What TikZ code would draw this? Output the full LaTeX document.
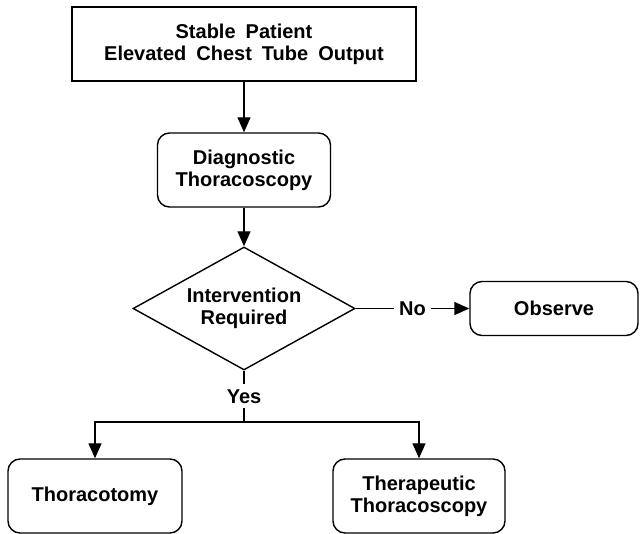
\documentclass[tikz,border=0pt]{standalone}
\usepackage{fontspec}
\setmainfont[WordSpace=1.8]{Liberation Sans}
\usetikzlibrary{arrows.meta,shapes.geometric}

\begin{document}
\begin{tikzpicture}[x=1pt,y=-1pt,line width=1.4pt,
  font=\fontsize{20}{22}\selectfont\bfseries,
  plainbox/.style={draw,align=center,inner sep=0pt,minimum height=74pt},
  roundbox/.style={plainbox,rounded corners=12pt},
  decision/.style={draw,diamond,aspect=1.8,align=center,inner sep=0pt,minimum width=222pt,minimum height=123pt},
  flow/.style={-{Triangle[length=15pt,width=13pt]}},
  lbl/.style={fill=white,inner sep=5pt}]
\useasboundingbox (0,0) rectangle (640,534);
\node[plainbox,minimum width=344pt] (patient) at (244,44) {Stable Patient\\Elevated Chest Tube Output};
\node[roundbox,minimum width=173pt] (diag) at (244,170) {Diagnostic\\Thoracoscopy};
\node[decision] (interv) at (244,308.5) {Intervention\\Required};
\node[roundbox,minimum width=168pt,minimum height=54pt] (observe) at (554,308.5) {Observe};
\node[roundbox,minimum width=174pt] (tomy) at (95,496) {Thoracotomy};
\node[roundbox,minimum width=172pt] (therap) at (419,496) {Therapeutic\\Thoracoscopy};
\coordinate (split) at (244,422);
\draw[flow] (patient) -- (diag);
\draw[flow] (diag) -- (interv);
\draw[flow] (interv) -- node[lbl] {No} (observe);
\draw (interv) -- node[lbl] {Yes} (split);
\draw[flow] (split) -| (tomy);
\draw[flow] (split) -| (therap);
\end{tikzpicture}
\end{document}
